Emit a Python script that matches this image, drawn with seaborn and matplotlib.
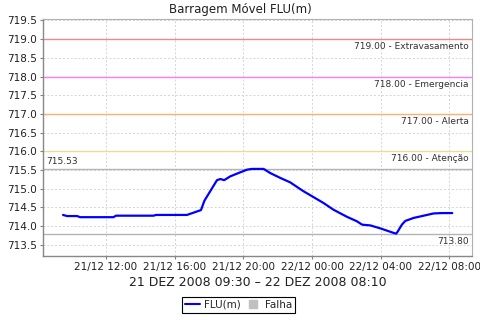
import matplotlib
matplotlib.use("Agg")
import matplotlib.pyplot as plt
import matplotlib.dates as mdates
from matplotlib.lines import Line2D
from matplotlib.transforms import blended_transform_factory, offset_copy
import seaborn as sns
import pandas as pd

# ---- data ----
times = [
    "2008-12-21 09:30", "2008-12-21 09:44", "2008-12-21 10:19", "2008-12-21 10:30",
    "2008-12-21 12:26", "2008-12-21 12:35", "2008-12-21 14:46", "2008-12-21 14:55",
    "2008-12-21 16:43", "2008-12-21 17:32", "2008-12-21 17:44", "2008-12-21 18:28",
    "2008-12-21 18:40", "2008-12-21 18:53", "2008-12-21 19:14", "2008-12-21 19:43",
    "2008-12-21 20:13", "2008-12-21 20:30", "2008-12-21 21:11", "2008-12-21 21:34",
    "2008-12-21 22:09", "2008-12-21 22:44", "2008-12-21 23:17", "2008-12-21 23:31",
    "2008-12-22 00:00", "2008-12-22 00:40", "2008-12-22 01:15", "2008-12-22 02:02",
    "2008-12-22 02:37", "2008-12-22 02:55", "2008-12-22 03:24", "2008-12-22 03:59",
    "2008-12-22 04:45", "2008-12-22 04:54", "2008-12-22 04:59", "2008-12-22 05:14",
    "2008-12-22 05:26", "2008-12-22 05:55", "2008-12-22 06:30", "2008-12-22 07:05",
    "2008-12-22 07:34", "2008-12-22 08:10",
]
levels = [
    714.30, 714.27, 714.27, 714.24,
    714.24, 714.28, 714.28, 714.30,
    714.30, 714.43, 714.68, 715.23,
    715.26, 715.23, 715.33, 715.42,
    715.51, 715.53, 715.53, 715.42,
    715.29, 715.17, 715.00, 714.93,
    714.80, 714.62, 714.44, 714.25,
    714.13, 714.04, 714.02, 713.94,
    713.82, 713.80, 713.85, 714.04,
    714.14, 714.22, 714.28, 714.34,
    714.35, 714.35,
]
threshold_values = [719.0, 718.0, 717.0, 716.0]
threshold_names = ["Extravasamento", "Emergencia", "Alerta", "Atenção"]
threshold_colors = ["#e88a8a", "#ff77ff", "#ffb070", "#e8e08c"]
max_level = 715.53
min_level = 713.80
y_ticks = [713.5, 714.0, 714.5, 715.0, 715.5, 716.0, 716.5, 717.0, 717.5, 718.0, 718.5, 719.0, 719.5]
x_start = "2008-12-21 08:21"
x_end = "2008-12-22 09:19"
title = "Barragem Móvel FLU(m)"
xlabel = "21 DEZ 2008 09:30 – 22 DEZ 2008 08:10"
series_name = "FLU(m)"
fail_name = "Falha"

df = pd.DataFrame({"time": pd.to_datetime(times), "level": levels})

sns.set_style("white")
plt.rcParams["font.family"] = ["DejaVu Sans"]

fig = plt.figure(figsize=(4.8, 3.2), dpi=100)
ax = fig.add_axes([0.0902, 0.2009, 0.8931, 0.7388])

# grid
ax.grid(True, color="#d4d4d4", linestyle=(0, (2, 2)), linewidth=0.7)
ax.set_axisbelow(True)

# threshold lines
blend = blended_transform_factory(ax.transAxes, ax.transData)
for v, name, c in zip(threshold_values, threshold_names, threshold_colors):
    ax.axhline(v, color=c, linewidth=1.0, zorder=1.5)
    ax.text(0.992, v, f"{v:.2f} - {name}",
            transform=offset_copy(blend, fig=fig, x=0, y=-3, units="dots"),
            ha="right", va="top", fontsize=6.5, color="#303030")

ax.axhline(max_level, color="#b4b4b4", linewidth=1.0, zorder=1.5)
ax.text(0.007, max_level, f"{max_level:.2f}",
        transform=offset_copy(blend, fig=fig, x=0, y=3, units="dots"),
        ha="left", va="bottom", fontsize=6.5, color="#303030")
ax.axhline(min_level, color="#b4b4b4", linewidth=1.0, zorder=1.5)
ax.text(0.992, min_level, f"{min_level:.2f}",
        transform=offset_copy(blend, fig=fig, x=0, y=-3, units="dots"),
        ha="right", va="top", fontsize=6.5, color="#303030")

sns.lineplot(data=df, x="time", y="level", ax=ax, color="#0000ff",
             linewidth=1.6, legend=False, zorder=3)

ax.set_xlim(pd.Timestamp(x_start), pd.Timestamp(x_end))
ax.set_ylim(713.21, 719.53)
ax.set_yticks(y_ticks)
ax.set_yticklabels([f"{t:.1f}" for t in y_ticks])
ax.xaxis.set_major_locator(mdates.HourLocator(byhour=[0, 4, 8, 12, 16, 20]))
ax.xaxis.set_major_formatter(mdates.DateFormatter("%d/%m %H:%M"))

ax.tick_params(axis="both", which="major", length=2.5, width=0.8, color="#808080",
               pad=2, labelcolor="#202020")
ax.tick_params(axis="y", labelsize=7.5)
ax.tick_params(axis="x", labelsize=7.5)
ax.tick_params(bottom=True, left=True)

for s in ["left", "bottom"]:
    ax.spines[s].set_color("#888888")
    ax.spines[s].set_linewidth(1.0)
for s in ["top", "right"]:
    ax.spines[s].set_color("#b0b0b0")
    ax.spines[s].set_linewidth(0.8)

ax.set_xlabel(xlabel, fontsize=9, labelpad=3, color="#202020")
ax.set_ylabel("")
fig.text(0.5, 0.992, title, ha="center", va="top", fontsize=8.5, color="#202020")

handles = [
    Line2D([], [], color="#0000ff", linewidth=1.5),
    Line2D([], [], color="#c0c0c0", marker="s", linestyle="None", markersize=6),
]
leg = fig.legend(handles, [series_name, fail_name], loc="lower center",
                 bbox_to_anchor=(0.4975, 0.022), ncol=2, fontsize=7.5,
                 frameon=True, fancybox=False, framealpha=1, edgecolor="black",
                 handlelength=1.4, handletextpad=0.4, columnspacing=0.5,
                 borderpad=0.3, borderaxespad=0)
leg.get_frame().set_linewidth(0.8)

fig.savefig("out.png", dpi=100)
